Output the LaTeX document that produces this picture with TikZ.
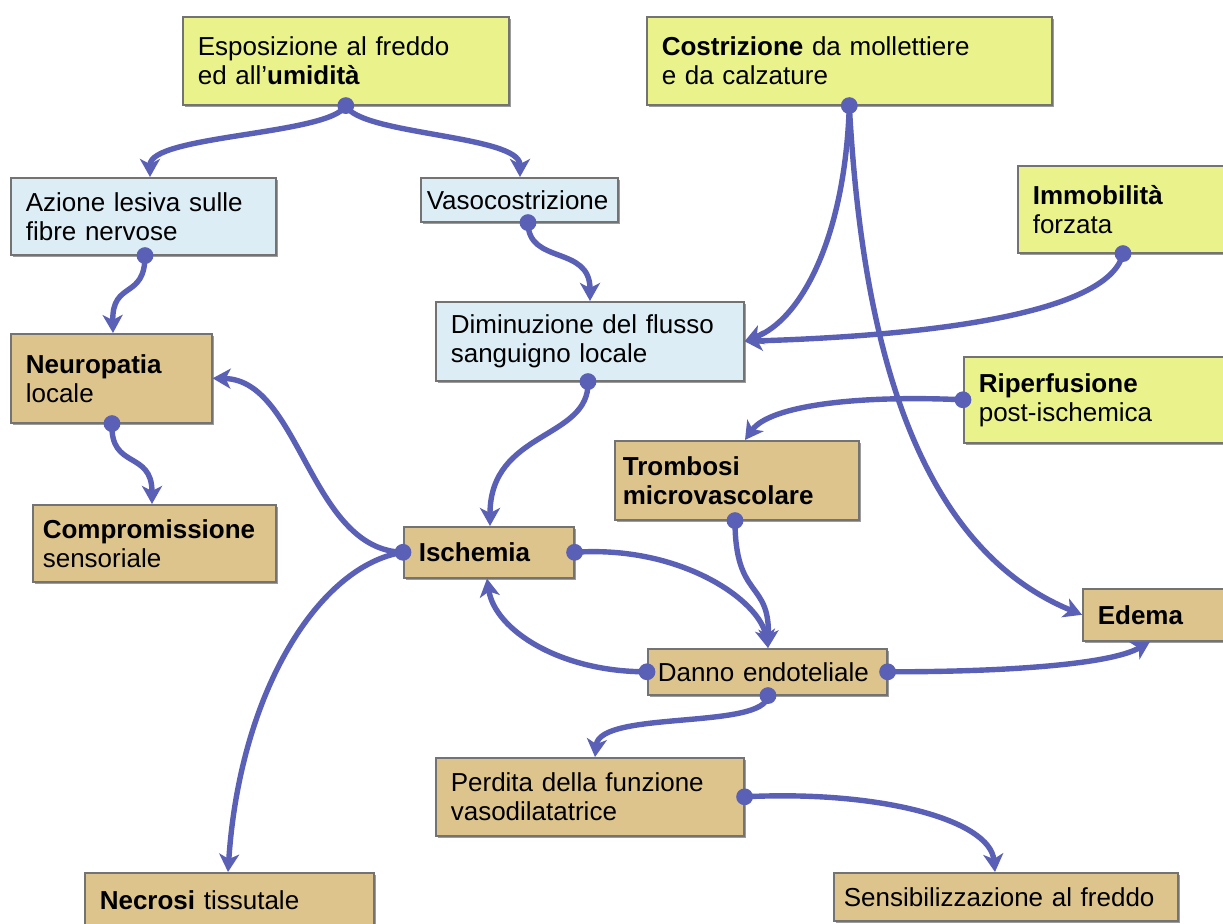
\documentclass[tikz,border=0pt]{standalone}
\usepackage{fontspec}
\setmainfont{Liberation Sans}
\usetikzlibrary{arrows.meta,calc,shadows}
\definecolor{boxyellow}{RGB}{234,242,140}
\definecolor{boxblue}{RGB}{221,237,246}
\definecolor{boxtan}{RGB}{220,196,140}
\definecolor{linecol}{RGB}{90,96,181}
\tikzset{
  box/.style={draw=black!55, line width=0.8pt, anchor=north west, align=left,
    inner xsep=7.5pt, inner ysep=2pt, font=\fontsize{13}{14.5}\selectfont,
    drop shadow={shadow xshift=1.3pt, shadow yshift=-1.3pt, fill=black!70, opacity=0.55}},
  yel/.style={box, fill=boxyellow},
  blu/.style={box, fill=boxblue},
  tanbox/.style={box, fill=boxtan},
  conn/.style={draw=linecol, line width=2.7pt, -{Stealth[length=9pt,width=10pt,inset=2.5pt]}},
  dotc/.style={fill=linecol},
}
\begin{document}
\begin{tikzpicture}[x=0.5pt,y=-0.5pt]
\useasboundingbox (0,0) rectangle (1223,924);
\fill[white] (0,0) rectangle (1223,924);
\clip (0,0) rectangle (1223,924);

% nodes
\node[yel, text width=148pt, minimum height=44pt] (esp) at (182,16) {Esposizione al freddo\\ed all’\textbf{umidità}};
\node[yel, text width=187.5pt, minimum height=44pt] (cos) at (646,16) {\textbf{Costrizione} da mollettiere\\e da calzature};
\node[blu, text width=117.5pt, minimum height=38.5pt] (azi) at (10,177) {Azione lesiva sulle\\fibre nervose};
\node[blu, inner xsep=3pt, text width=92.5pt, minimum height=22pt] (vas) at (420,177) {Vasocostrizione};
\node[yel, text width=112pt, minimum height=43.5pt] (imm) at (1017,165) {\textbf{Immobilità}\\forzata};
\node[blu, text width=139pt, minimum height=39.5pt] (dim) at (435,301) {Diminuzione del flusso\\sanguigno locale};
\node[yel, text width=140pt, minimum height=43pt] (rip) at (963,356) {\textbf{Riperfusione}\\post-ischemica};
\node[tanbox, text width=85.5pt, minimum height=44.5pt] (neu) at (10,333) {\textbf{Neuropatia}\\locale};
\node[tanbox, inner xsep=4pt, text width=114pt, minimum height=39.5pt] (tro) at (614,440) {\textbf{Trombosi}\\\textbf{microvascolare}};
\node[tanbox, inner xsep=5pt, text width=111.5pt, minimum height=38.5pt] (com) at (32,504) {\textbf{Compromissione}\\sensoriale};
\node[tanbox, text width=70pt, minimum height=25.5pt] (isc) at (403,526) {\textbf{Ischemia}};
\node[tanbox, text width=70pt, minimum height=26pt] (ede) at (1082,588) {\textbf{Edema}};
\node[tanbox, inner xsep=5pt, text width=109.5pt, minimum height=23pt] (dan) at (647,648) {Danno endoteliale};
\node[tanbox, text width=139pt, minimum height=39pt] (per) at (435,757) {Perdita della funzione\\vasodilatatrice};
\node[tanbox, text width=129.5pt, minimum height=27pt] (nec) at (84,872) {\textbf{Necrosi} tissutale};
\node[tanbox, inner xsep=5pt, text width=162pt, minimum height=24pt] (sen) at (833,872) {Sensibilizzazione al freddo};

% anchor points
\coordinate (espS) at (esp.south);
\coordinate (aziN) at ($(azi.north west)+(140,0)$);
\coordinate (vasN) at ($(vas.north west)+(100,0)$);
\coordinate (aziS) at ($(azi.south west)+(135,0)$);
\coordinate (neuN) at ($(neu.north west)+(103,0)$);
\coordinate (vasS) at ($(vas.south west)+(108,0)$);
\coordinate (dimN) at ($(dim.north west)+(155,0)$);
\coordinate (cosS) at (cos.south);
\coordinate (immS) at ($(imm.south west)+(106,0)$);
\coordinate (troN) at ($(tro.north west)+(131,0)$);
\coordinate (dimS) at ($(dim.south west)+(153,0)$);
\coordinate (iscN) at ($(isc.north west)+(87,0)$);
\coordinate (neuS) at ($(neu.south west)+(102,0)$);
\coordinate (comN) at ($(com.north west)+(120,0)$);
\coordinate (necN) at ($(nec.north west)+(144,0)$);
\coordinate (danN) at ($(dan.north west)+(121,0)$);
\coordinate (troS) at ($(tro.south west)+(121,0)$);
\coordinate (iscS) at ($(isc.south west)+(84,0)$);
\coordinate (edeS) at ($(ede.south west)+(68,0)$);
\coordinate (danS) at ($(dan.south west)+(121,0)$);
\coordinate (perN) at ($(per.north west)+(160,0)$);
\coordinate (senN) at ($(sen.north west)+(162,0)$);

% connectors
\draw[conn] (espS) .. controls (330,135) and (150,135) .. (aziN);
\draw[conn] (espS) .. controls (360,135) and (520,135) .. (vasN);
\draw[conn] (aziS) .. controls (145,300) and (112,280) .. (neuN);
\draw[conn] (vasS) .. controls (528,265) and (590,245) .. (dimN);
\draw[conn] (cosS) .. controls (845,240) and (800,320) .. (dim.east);
\draw[conn] (cosS) .. controls (860,300) and (900,540) .. (ede.west);
\draw[conn] (immS) .. controls (1110,310) and (950,335) .. (dim.east);
\draw[conn] (rip.west) .. controls (860,395) and (770,405) .. (troN);
\draw[conn] (dimS) .. controls (590,440) and (490,430) .. (iscN);
\draw[conn] (neuS) .. controls (110,470) and (152,450) .. (comN);
\draw[conn] (isc.west) .. controls (310,550) and (300,380) .. (neu.east);
\draw[conn] (isc.west) .. controls (320,565) and (240,690) .. (necN);
\draw[conn] (isc.east) .. controls (680,545) and (760,600) .. (danN);
\draw[conn] (troS) .. controls (735,600) and (770,580) .. (danN);
\draw[conn] (dan.west) .. controls (560,672) and (495,630) .. (iscS);
\draw[conn] (dan.east) .. controls (1000,672) and (1110,665) .. (edeS);
\draw[conn] (danS) .. controls (765,730) and (600,710) .. (perN);
\draw[conn] (per.east) .. controls (880,790) and (990,820) .. (senN);

% dots
\foreach \p in {espS,aziS,vasS,cosS,immS,rip.west,dimS,neuS,isc.west,isc.east,troS,dan.west,dan.east,danS,per.east}
  \fill[dotc] (\p) circle[radius=4.2pt];
\end{tikzpicture}
\end{document}
